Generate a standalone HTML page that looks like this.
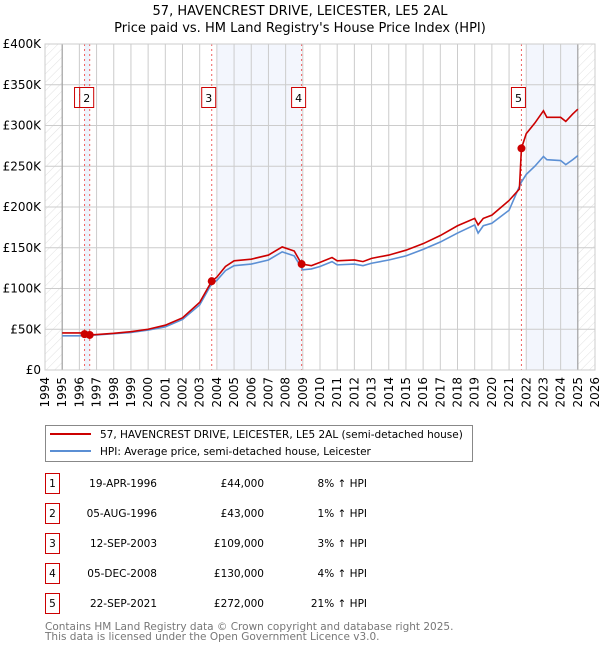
<!DOCTYPE html>
<html><head><meta charset="utf-8"><style>
body{margin:0;background:#fff;font-family:"Liberation Sans","DejaVu Sans",sans-serif}
svg{display:block}
</style></head><body>
<svg id="c" width="600" height="650" viewBox="0 0 600 650" font-family="DejaVu Sans, Liberation Sans, sans-serif">
<defs><pattern id="hatch" width="6" height="6" patternUnits="userSpaceOnUse" patternTransform="rotate(45)"><line x1="0" y1="0" x2="0" y2="6" stroke="#d8d8d8" stroke-width="0.8"/></pattern></defs>
<text x="300" y="15" text-anchor="middle" font-size="13">57, HAVENCREST DRIVE, LEICESTER, LE5 2AL</text>
<text x="300" y="32" text-anchor="middle" font-size="13">Price paid vs. HM Land Registry's House Price Index (HPI)</text>
<g id="plot"></g>
<g>
<rect x="45.5" y="425.5" width="427" height="36" fill="#fff" stroke="#888"/>
<line x1="50" y1="434" x2="91" y2="434" stroke="#cc0000" stroke-width="2"/>
<text x="100" y="438" font-size="10.5">57, HAVENCREST DRIVE, LEICESTER, LE5 2AL (semi-detached house)</text>
<line x1="50" y1="451" x2="91" y2="451" stroke="#5b8fd4" stroke-width="2"/>
<text x="100" y="455" font-size="10.5">HPI: Average price, semi-detached house, Leicester</text>
</g>
<g id="table" font-size="10.5"></g>
<text x="45" y="630" font-size="10.5" fill="#777">Contains HM Land Registry data © Crown copyright and database right 2025.</text>
<text x="45" y="640" font-size="10.5" fill="#777">This data is licensed under the Open Government Licence v3.0.</text>
</svg>
<script>
const hpiYears=[1995,1996,1997,1998,1999,2000,2001,2002,2003,2003.7,2004,2004.5,2005,2006,2007,2007.8,2008.5,2009,2009.5,2010,2010.7,2011,2012,2012.5,2013,2014,2015,2016,2017,2018,2019,2019.2,2019.5,2020,2021,2021.7,2022,2022.5,2023,2023.2,2024,2024.3,2024.7,2025];
const hpiValues=[42,42,43,44.5,46,49,53,62,80,106,110,122,128,130,135,145,140,123,124,127,133,129,130,128,131,135,140,148,157,168,178,168,177,180,196,230,240,250,262,258,257,252,258,263];
const priceYears=[1995,1996.3,1996.6,1997,1998,1999,2000,2001,2002,2003,2003.7,2004,2004.5,2005,2006,2007,2007.8,2008.5,2008.93,2009.5,2010,2010.7,2011,2012,2012.5,2013,2014,2015,2016,2017,2018,2019,2019.2,2019.5,2020,2021,2021.6,2021.72,2022,2022.5,2023,2023.2,2024,2024.3,2024.7,2025];
const priceValues=[45.5,45.5,43,43.5,45,47,50,55,64,83,109,114,127,134,136,141,151,146,130,128,132,138,134,135,133,137,141,147,155,165,177,186,178,186,190,208,222,272,290,303,318,310,310,305,314,320];
const saleYears=[1996.3,1996.6,2003.7,2008.93,2021.72];
const saleValues=[44,43,109,130,272];
const saleLabels=["1","2","3","4","5"];
const saleDates=["19-APR-1996","05-AUG-1996","12-SEP-2003","05-DEC-2008","22-SEP-2021"];
const salePrices=["£44,000","£43,000","£109,000","£130,000","£272,000"];
const salePcts=["8% ↑ HPI","1% ↑ HPI","3% ↑ HPI","4% ↑ HPI","21% ↑ HPI"];
const yTicks=[0,50,100,150,200,250,300,350,400];
const yTickLabels=["£0","£50K","£100K","£150K","£200K","£250K","£300K","£350K","£400K"];
const xTicks=[1994,1995,1996,1997,1998,1999,2000,2001,2002,2003,2004,2005,2006,2007,2008,2009,2010,2011,2012,2013,2014,2015,2016,2017,2018,2019,2020,2021,2022,2023,2024,2025,2026];

const NS="http://www.w3.org/2000/svg";
const L=45,R=595,T=44,B=370;
const xs=y=>L+(y-1994)/(2026-1994)*(R-L);
const ys=v=>B-v/400*(B-T);
const g=document.getElementById('plot');
function mk(tag,at,parent){const e=document.createElementNS(NS,tag);for(const k in at)e.setAttribute(k,at[k]);(parent||g).appendChild(e);return e;}
let e;
e=mk('rect',{x:xs(1996.3),y:T,width:xs(1996.6)-xs(1996.3),height:B-T,fill:'#eef2fb'});


e=mk('rect',{x:xs(2004),y:T,width:xs(2008.93)-xs(2004),height:B-T,fill:'#f3f6fd'});


e=mk('rect',{x:xs(2022),y:T,width:xs(2025)-xs(2022),height:B-T,fill:'#f3f6fd'});


e=mk('rect',{x:L,y:T,width:xs(1995)-L,height:B-T,fill:'url(#hatch)'});


e=mk('rect',{x:xs(2025),y:T,width:R-xs(2025),height:B-T,fill:'url(#hatch)'});


yTicks.forEach((v,i)=>{
  e=mk('line',{x1:L,x2:R,y1:ys(v),y2:ys(v),stroke:'#ccc'});
  
  
  e=mk('text',{x:L-4,y:ys(v)+4,'text-anchor':'end','font-size':12});
  e.textContent=yTickLabels[i];
  
  
});
xTicks.forEach(y=>{
  e=mk('line',{x1:xs(y),x2:xs(y),y1:T,y2:B,stroke:'#ccc'});
  
  
  e=mk('text',{x:0,y:0,'text-anchor':'end','font-size':12,transform:`translate(${xs(y)+4},${B+7}) rotate(-90)`});
  e.textContent=y;
  
  
});
e=mk('line',{x1:xs(1995),x2:xs(1995),y1:T,y2:B,stroke:'#999'});


e=mk('line',{x1:xs(2025),x2:xs(2025),y1:T,y2:B,stroke:'#999'});


saleYears.forEach((y,i)=>{
  e=mk('line',{x1:xs(y),x2:xs(y),y1:T,y2:B,stroke:'#f06060','stroke-dasharray':'2,3'});
  
  
});
e=mk('polyline',{points:hpiYears.map((y,i)=>xs(y)+','+ys(hpiValues[i])).join(' '),fill:'none',stroke:'#5b8fd4','stroke-width':1.6});


e=mk('polyline',{points:priceYears.map((y,i)=>xs(y)+','+ys(priceValues[i])).join(' '),fill:'none',stroke:'#cc0000','stroke-width':1.6});


saleYears.forEach((y,i)=>{
  e=mk('circle',{cx:xs(y),cy:ys(saleValues[i]),r:4,fill:'#cc0000'});
  
  
  const bx=xs(y)-10;
  e=mk('rect',{x:bx,y:87.5,width:14,height:20,fill:'#fff',stroke:'#cc0000'});
  
  
  e=mk('text',{x:bx+7,y:102,'text-anchor':'middle','font-size':11});
  e.textContent=saleLabels[i];
  
  
});
mk('rect',{x:L,y:T,width:R-L,height:B-T,fill:'none',stroke:'#ccc'});
const tg=document.getElementById('table');
saleLabels.forEach((s,i)=>{
  const cy=483+i*30;
  e=mk('rect',{x:45.5,y:cy-9.5,width:14,height:20,fill:'#fff',stroke:'#cc0000'},tg);
  
  
  e=mk('text',{x:52.5,y:cy+4,'text-anchor':'middle'},tg);e.textContent=s;
  
  
  e=mk('text',{x:157,y:cy+4,'text-anchor':'end'},tg);e.textContent=saleDates[i];
  
  
  e=mk('text',{x:264,y:cy+4,'text-anchor':'end'},tg);e.textContent=salePrices[i];
  
  
  e=mk('text',{x:367,y:cy+4,'text-anchor':'end'},tg);e.textContent=salePcts[i];
  
  
});
</script>
</body></html>
